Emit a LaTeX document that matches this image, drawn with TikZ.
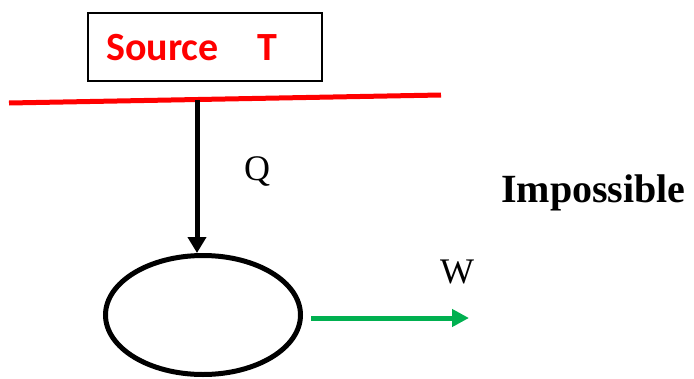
\documentclass[tikz,border=0pt]{standalone}
\usepackage{fontspec}
\setmainfont{Liberation Serif}
\newfontfamily\carlito{Carlito}
\usetikzlibrary{arrows.meta,shapes.geometric}
\definecolor{srcred}{RGB}{255,0,0}
\definecolor{wgreen}{RGB}{0,176,80}
\tikzset{
  boxstyle/.style={draw=black,line width=2.5pt,minimum width=234pt,minimum height=68pt,inner sep=0pt},
  engine/.style={draw=black,ellipse,line width=5pt,minimum width=195pt,minimum height=119pt,inner sep=0pt},
  heat/.style={line width=5pt,-{Triangle[length=16pt,width=18pt]}},
  work/.style={draw=wgreen,line width=5pt,-{Triangle[length=17pt,width=17pt]}},
  lbl/.style={font=\fontsize{36}{40}\selectfont,inner sep=0pt},
}
\begin{document}
\begin{tikzpicture}[x=1pt,y=-1pt]
\useasboundingbox (0,0) rectangle (694,378);
\node[boxstyle] (box) at (205,47) {};
\node[anchor=base west,inner sep=0pt,text=srcred,font=\carlito\bfseries\fontsize{40}{44}\selectfont] (src) at (106,60) {Source\hspace{39pt}T};
\coordinate (rl) at (9,103);
\coordinate (rr) at (441,95);
\draw[srcred,line width=5pt] (rl) -- (rr);
\node[engine] (e) at (203,315) {};
\coordinate (qs) at (197,100);
\draw[heat] (qs) -- (qs |- e.north);
\coordinate (wend) at (469,318);
\draw[work,shorten <=8pt] (e.east |- wend) -- (wend);
\node[lbl] (q) at (257,171) {Q};
\node[lbl] (w) at (457,272) {W};
\node[anchor=west,inner sep=0pt,font=\bfseries\fontsize{40}{44}\selectfont] (imp) at (501,193) {Impossible};
\end{tikzpicture}
\end{document}
